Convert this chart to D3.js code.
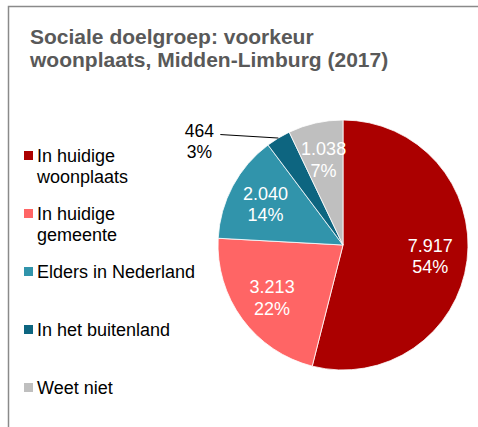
<!DOCTYPE html>
<html><head><meta charset="utf-8">
<script src="https://cdn.jsdelivr.net/npm/d3@7"></script>
<style>body{margin:0;background:#fff}svg{display:block}</style>
</head><body>
<script>
const categories = ["In huidige woonplaats","In huidige gemeente","Elders in Nederland","In het buitenland","Weet niet"];
const legendLines = [["In huidige","woonplaats"],["In huidige","gemeente"],["Elders in Nederland"],["In het buitenland"],["Weet niet"]];
const values = [7917, 3213, 2040, 464, 1038];
const valueLabels = ["7.917","3.213","2.040","464","1.038"];
const pctLabels = ["54%","22%","14%","3%","7%"];
const colors = ["#AB0000","#FF6565","#3194AB","#0D6580","#BFBFBF"];
const titleLines = ["Sociale doelgroep: voorkeur","woonplaats, Midden-Limburg (2017)"];

const W = 478, H = 427;
const svg = d3.select("body").append("svg").attr("width", W).attr("height", H);
const font = "Liberation Sans, Arial, sans-serif";

// frame
svg.append("path").attr("d", `M8.5,${H} V6.5 H${W}`).attr("fill","none").attr("stroke","#8a8a8a").attr("stroke-width",1.5);

// title
svg.append("text").attr("x",30).attr("y",44).attr("font-family",font).attr("font-weight","bold")
  .attr("font-size",21).attr("fill","#595959")
  .selectAll("tspan").data(titleLines).join("tspan").attr("x",30).attr("dy",(d,i)=>i?23:0).text(d=>d);

// pie
const cx = 343, cy = 245, R = 125;
const pie = d3.pie().sort(null).value(d=>d)(values);
const arc = d3.arc().innerRadius(0).outerRadius(R);
const g = svg.append("g").attr("transform",`translate(${cx},${cy})`);
g.selectAll("path").data(pie).join("path").attr("d",arc).attr("fill",(d,i)=>colors[i])
  .attr("stroke","#fff").attr("stroke-width",0.8);

const labelArc = d3.arc().innerRadius(88).outerRadius(88);
pie.forEach((d,i)=>{
  if (i === 3) {
    const a = (d.startAngle+d.endAngle)/2;
    const ex = R*Math.sin(a), ey = -R*Math.cos(a);
    g.append("line").attr("x1",ex).attr("y1",ey).attr("x2",ex-58).attr("y2",ey-3.5)
      .attr("stroke","#000").attr("stroke-width",1);
    const t = g.append("text").attr("font-family",font).attr("font-size",17.5).attr("fill","#000")
      .attr("text-anchor","middle");
    t.append("tspan").attr("x",ex-79).attr("y",ey-1.5).text(valueLabels[i]);
    t.append("tspan").attr("x",ex-79).attr("y",ey+20).text(pctLabels[i]);
  } else {
    const [x,y] = labelArc.centroid(d);
    const t = g.append("text").attr("font-family",font).attr("font-size",18).attr("fill","#fff")
      .attr("text-anchor","middle");
    t.append("tspan").attr("x",x).attr("y",y-4).text(valueLabels[i]);
    t.append("tspan").attr("x",x).attr("y",y+17.5).text(pctLabels[i]);
  }
});

// legend
const leg = svg.append("g");
categories.forEach((c,i)=>{
  const by = 162 + i*58;
  leg.append("rect").attr("x",24).attr("y",by-11).attr("width",9).attr("height",9).attr("fill",colors[i]);
  const t = leg.append("text").attr("font-family",font).attr("font-size",18).attr("fill","#000");
  legendLines[i].forEach((l,j)=>t.append("tspan").attr("x",37).attr("y",by+j*21).text(l));
});
</script>
</body></html>
